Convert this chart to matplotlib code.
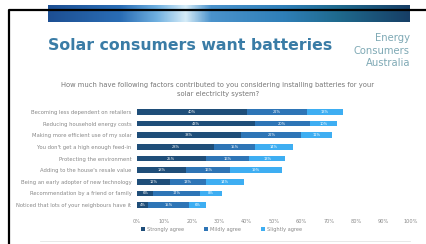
import matplotlib.pyplot as plt
import numpy as np
from matplotlib.colors import LinearSegmentedColormap

# survey factors, top to bottom
factors = ['Becoming less dependent on retailers',
           'Reducing household energy costs',
           'Making more efficient use of my solar',
           'You don\'t get a high enough feed-in',
           'Protecting the environment',
           'Adding to the house\'s resale value',
           'Being an early adopter of new technology',
           'Recommendation by a friend or family',
           'Noticed that lots of your neighbours have it']
strongly = [40, 43, 38, 28, 25, 18, 12, 6, 4]
mildly = [22, 20, 22, 15, 16, 16, 13, 17, 15]
somewhat = [13, 10, 11, 14, 13, 19, 14, 8, 6]
series_names = ['Strongly agree', 'Mildly agree', 'Slightly agree']
xticks = np.arange(0, 101, 10)

W, H = 426, 244
fig = plt.figure(figsize=(W / 100, H / 100), dpi=100)
fig.patch.set_facecolor('white')

# slide frame
bg = fig.add_axes([0, 0, 1, 1])
bg.axis('off')
bg.plot([9, 9, W], [H, 10, 10], color='black', lw=1.6)
bg.plot([40, 410], [241, 241], color='#e4e4e4', lw=0.6)

# banner gradient
cmap = LinearSegmentedColormap.from_list('banner', [
    (0.0, '#1d4f93'), (0.2, '#2a6db5'), (0.3, '#6fb0e0'), (0.38, '#d6ecf8'),
    (0.45, '#4b93cc'), (0.65, '#2f7fb8'), (0.8, '#1f6a8e'), (1.0, '#173f66')])
grad = np.linspace(0, 1, 256).reshape(1, -1)
bg.imshow(grad, cmap=cmap, aspect='auto', extent=[48, 410, 22, 5], zorder=1)
bg.set_xlim(0, W)
bg.set_ylim(H, 0)

bg.text(48, 46, 'Solar consumers want batteries', fontsize=11.3,
        fontweight='heavy', color='#3a7ca6', va='center', ha='left')
for txt, yy in zip(['Energy', 'Consumers', 'Australia'], [38, 51, 63]):
    bg.text(410, yy, txt, fontsize=7.2, color='#7fa9b5', ha='right', va='center')
bg.text(218, 85, 'How much have following factors contributed to you considering installing batteries for your',
        fontsize=4.9, color='#777777', ha='center', va='center')
bg.text(218, 94, 'solar electricity system?', fontsize=4.9, color='#777777',
        ha='center', va='center')

# chart
ax = fig.add_axes([137 / W, 1 - 211 / H, 274 / W, 105 / H])
y = np.arange(len(factors))
colors = ['#1f4e79', '#2e75b6', '#3eaef2']
left = np.zeros(len(factors))
for vals, col, name in zip([strongly, mildly, somewhat], colors, series_names):
    vals = np.array(vals)
    ax.barh(y, vals, left=left, height=0.46, color=col, label=name)
    for yi, l, v in zip(y, left, vals):
        ax.text(l + v / 2, yi, f'{v}%', fontsize=2.6, color='white',
                ha='center', va='center')
    left = left + vals

ax.set_ylim(len(factors) - 0.5, -0.5)
ax.set_xlim(0, 100)
ax.set_yticks(y)
ax.set_yticklabels(factors, fontsize=3.8, color='#888888')
ax.set_xticks(xticks)
ax.set_xticklabels([f'{v}%' for v in xticks], fontsize=3.6, color='#888888')
ax.tick_params(length=0, pad=4)
ax.tick_params(axis='x', pad=6)
for s in ax.spines.values():
    s.set_visible(False)

fig.legend(loc='center', bbox_to_anchor=(0.52, 1 - 229 / H), ncol=3,
           frameon=False, fontsize=3.6, labelcolor='#888888',
           handlelength=0.8, handleheight=0.8, columnspacing=4, handletextpad=0.4)

fig.savefig('out.png', dpi=100)
